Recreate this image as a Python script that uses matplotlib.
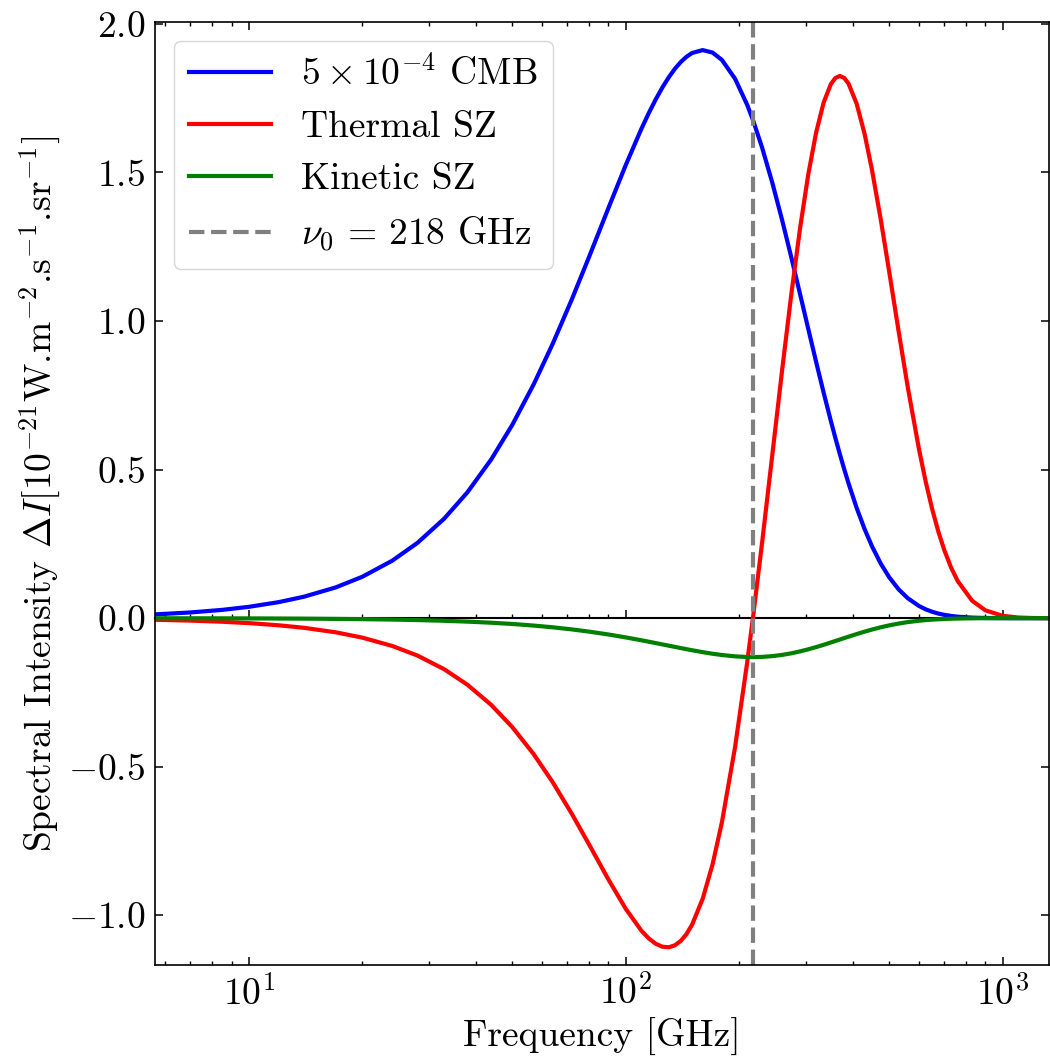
import matplotlib

matplotlib.use("Agg")  # headless
import matplotlib.pyplot as plt

plt.rcParams.update({
    "font.family": "serif",
    "font.serif": ["cmr10"],
    "mathtext.fontset": "cm",
    "axes.formatter.use_mathtext": True,
    "font.size": 27,
    "axes.linewidth": 1.2,
    "xtick.direction": "in",
    "ytick.direction": "in",
    "xtick.top": True,
    "ytick.right": True,
    "xtick.major.size": 6,
    "ytick.major.size": 6,
    "xtick.minor.size": 3,
    "ytick.minor.size": 3,
    "xtick.major.width": 1.1,
    "ytick.major.width": 1.1,
    "xtick.minor.width": 1.0,
    "ytick.minor.width": 1.0,
    "xtick.major.pad": 7,
    "ytick.major.pad": 7,
})

# Frequencies [GHz] and spectral intensities [1e-21 W m^-2 Hz^-1 sr^-1]
freq = [5.5, 7, 8.5, 10, 12, 14, 17, 20, 24, 28, 33, 38, 44, 50, 57, 64,
        72, 80, 90, 100, 110, 115, 120, 125, 130, 135, 140, 145, 150, 160,
        170, 180, 195, 210, 218, 230, 245, 260, 275, 290, 305, 320, 335,
        350, 360, 370, 380, 390, 410, 430, 450, 475, 500, 530, 560, 600,
        625, 650, 675, 700, 730, 760, 830, 900, 1000, 1100, 1200, 1350]

cmb = [0.0120, 0.0192, 0.0279, 0.0381, 0.0539, 0.0721, 0.1034, 0.1392,
       0.1931, 0.2530, 0.3350, 0.4231, 0.5347, 0.6502, 0.7869, 0.9228,
       1.0736, 1.2166, 1.3804, 1.5244, 1.6461, 1.6983, 1.7446, 1.7850,
       1.8195, 1.8484, 1.8715, 1.8892, 1.9017, 1.9115, 1.9031, 1.8783,
       1.8151, 1.7274, 1.6729, 1.5837, 1.4638, 1.3391, 1.2137, 1.0909,
       0.9731, 0.8620, 0.7587, 0.6640, 0.6056, 0.5512, 0.5006, 0.4536,
       0.3705, 0.3004, 0.2421, 0.1833, 0.1376, 0.0966, 0.0672, 0.0409,
       0.0297, 0.0215, 0.0155, 0.0112, 0.0075, 0.0050, 0.0019, 0.0007,
       0.0002, 0.0000, 0.0000, 0.0000]

tsz = [-0.0050, -0.0082, -0.0120, -0.0166, -0.0239, -0.0324, -0.0475,
       -0.0654, -0.0933, -0.1256, -0.1718, -0.2236, -0.2921, -0.3663,
       -0.4576, -0.5517, -0.6590, -0.7622, -0.8796, -0.9778, -1.0512,
       -1.0771, -1.0953, -1.1054, -1.1074, -1.1008, -1.0859, -1.0626,
       -1.0311, -0.9443, -0.8282, -0.6862, -0.4340, -0.1490, 0.0107,
       0.2537, 0.5530, 0.8353, 1.0906, 1.3115, 1.4934, 1.6345, 1.7350,
       1.7968, 1.8179, 1.8244, 1.8176, 1.7987, 1.7304, 1.6306, 1.5091,
       1.3404, 1.1658, 0.9628, 0.7774, 0.5673, 0.4588, 0.3673, 0.2913,
       0.2290, 0.1698, 0.1246, 0.0585, 0.0263, 0.0079, 0.0022, 0.0006,
       0.0001]

ksz = [-0.0003, -0.0004, -0.0006, -0.0008, -0.0012, -0.0016, -0.0024,
       -0.0033, -0.0047, -0.0064, -0.0088, -0.0116, -0.0153, -0.0195,
       -0.0249, -0.0307, -0.0378, -0.0453, -0.0549, -0.0647, -0.0743,
       -0.0791, -0.0837, -0.0882, -0.0925, -0.0966, -0.1006, -0.1044,
       -0.1079, -0.1143, -0.1197, -0.1240, -0.1285, -0.1307, -0.1310,
       -0.1303, -0.1277, -0.1236, -0.1182, -0.1118, -0.1048, -0.0973,
       -0.0896, -0.0818, -0.0767, -0.0718, -0.0669, -0.0622, -0.0534,
       -0.0454, -0.0383, -0.0306, -0.0242, -0.0180, -0.0132, -0.0086,
       -0.0065, -0.0049, -0.0037, -0.0027, -0.0019, -0.0013, -0.0005,
       -0.0002, -0.0001, 0.0, 0.0, 0.0]

NU0 = 218  # GHz, tSZ null
XLIM = (5.64, 1327)
YLIM = (-1.167, 2.006)

fig = plt.figure(figsize=(10.5, 10.57), dpi=100)
ax = fig.add_axes([155 / 1050, 1 - 965 / 1057, 894 / 1050, 943 / 1057])

ax.plot(freq, cmb, color="blue", lw=3, label=r"$5\times10^{-4}$ CMB")
ax.plot(freq, tsz, color="red", lw=3, label="Thermal SZ")
ax.plot(freq, ksz, color="green", lw=3, label="Kinetic SZ")
ax.axvline(NU0, color="gray", ls="--", lw=3, label=r"$\nu_0\,=\,218$ GHz")

ax.set_xscale("log")
ax.set_xlim(*XLIM)
ax.set_ylim(*YLIM)
ax.set_xlabel("Frequency [GHz]")
ax.set_ylabel(r"Spectral Intensity $\Delta I[10^{-21}$W.m$^{-2}$.s$^{-1}$.sr$^{-1}$]")

# zero line drawn as a second x axis (with its own ticks, no labels)
zfrac = (0 - YLIM[0]) / (YLIM[1] - YLIM[0])
zax = ax.secondary_xaxis(zfrac)
zax.tick_params(which="both", direction="in", labelbottom=False)
zax.spines["bottom"].set_linewidth(1.5)

ax.legend(loc="upper left", fontsize=27, handlelength=2.2)

fig.savefig("out.png", dpi=100)
